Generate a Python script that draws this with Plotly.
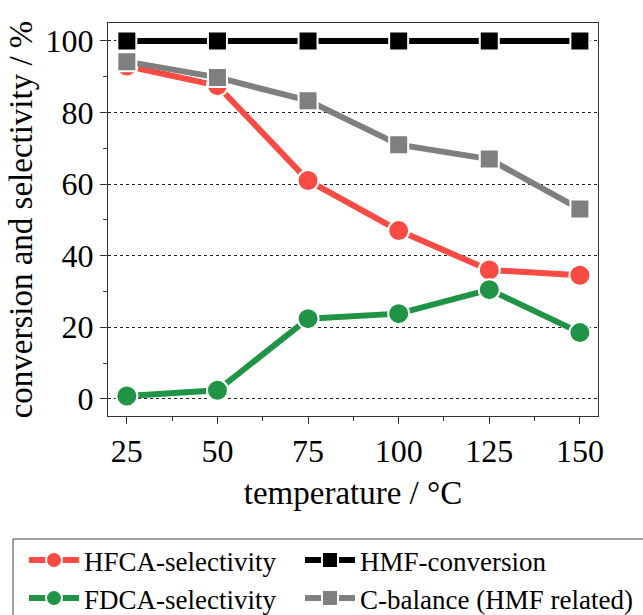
import plotly.graph_objects as go

temperature = [25, 50, 75, 100, 125, 150]
hfca_sel = [93, 87.5, 61, 47, 36, 34.5]
fdca_sel = [0.8, 2.4, 22.4, 23.8, 30.5, 18.5]
hmf_conv = [100, 100, 100, 100, 100, 100]
c_balance = [94.2, 89.8, 83.3, 71, 67, 53]

x_ticks = [25, 50, 75, 100, 125, 150]
y_ticks = [0, 20, 40, 60, 80, 100]

FONT = "Liberation Serif"

fig = go.Figure()

def add(name, y, color, symbol, size, legend, rank):
    fig.add_trace(go.Scatter(
        x=temperature, y=y, name=name, mode="lines+markers",
        line=dict(color=color, width=6),
        marker=dict(color=color, symbol=symbol, size=size,
                    line=dict(color="white", width=2)),
        legend=legend, legendrank=rank,
    ))

add("HFCA-selectivity", hfca_sel, "#f94a44", "circle", 21, "legend", 1)
add("FDCA-selectivity", fdca_sel, "#1f9447", "circle", 21, "legend", 2)
add("C-balance (HMF related)", c_balance, "#7f7f7f", "square", 19, "legend2", 2)
add("HMF-conversion", hmf_conv, "#000000", "square", 19, "legend2", 1)

leg_common = dict(
    orientation="h", xref="container", yref="container",
    xanchor="left", yanchor="top", y=0.1285,
    bgcolor="rgba(0,0,0,0)", borderwidth=0,
    font=dict(family=FONT, size=27), itemwidth=50, tracegroupgap=0,
    entrywidth=400, entrywidthmode="pixels",
)

fig.update_layout(
    width=643, height=615,
    margin=dict(l=108, r=45, t=23, b=199),
    paper_bgcolor="white", plot_bgcolor="white",
    font=dict(family=FONT, color="black", size=32),
    showlegend=True,
    legend=dict(x=24 / 643, **leg_common),
    legend2=dict(x=300 / 643, **leg_common),
    shapes=[dict(
        type="rect", xref="paper", yref="paper",
        x0=(13 - 108) / 490, x1=(660 - 108) / 490,
        y0=(416 - 640) / 393, y1=(416 - 539) / 393,
        line=dict(color="#444", width=1), fillcolor="rgba(0,0,0,0)", layer="above",
    )],
    xaxis=dict(
        range=[19.8, 155], tickmode="array", tickvals=x_ticks,
        ticks="outside", ticklen=7, tickwidth=1, tickcolor="#333",
        showline=True, linecolor="#333", linewidth=1, mirror=True,
        showgrid=False, zeroline=False,
        tickfont=dict(size=32, family=FONT),
        minor=dict(dtick=12.5, tick0=25, ticks="outside", ticklen=4, tickcolor="#333", showgrid=False),
        title=dict(text="temperature / °C", font=dict(size=33, family=FONT), standoff=12),
    ),
    yaxis=dict(
        range=[-4.8, 105], tickmode="array", tickvals=y_ticks,
        ticks="outside", ticklen=7, tickwidth=1, tickcolor="#333",
        showline=True, linecolor="#333", linewidth=1, mirror=True,
        showgrid=True, gridcolor="#222", griddash="dot", gridwidth=1,
        zeroline=False,
        tickfont=dict(size=32, family=FONT),
        minor=dict(dtick=10, tick0=0, ticks="outside", ticklen=4, tickcolor="#333", showgrid=False),
        title=dict(text="conversion and selectivity / %", font=dict(size=33, family=FONT), standoff=3),
    ),
)

fig.write_html("out.html")
